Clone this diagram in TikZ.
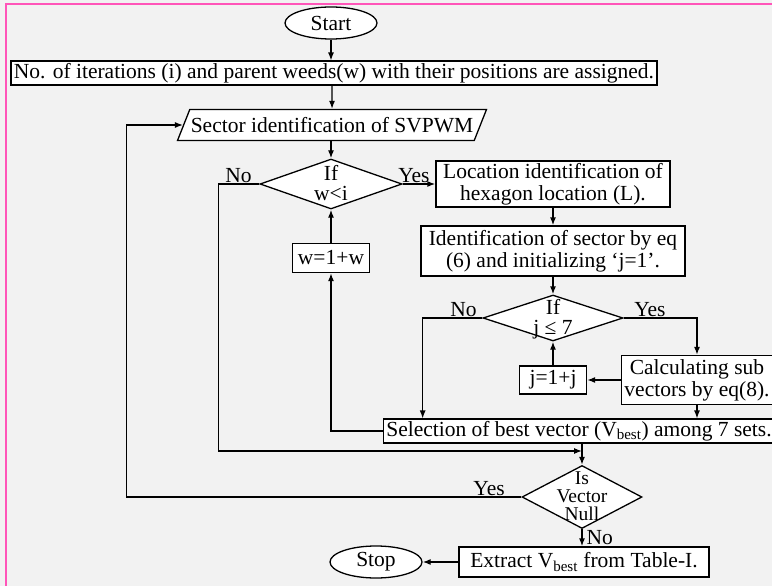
\documentclass[tikz,border=0pt]{standalone}
\usepackage{fontspec}
\setmainfont{Liberation Serif}
\usepackage{xcolor}
\usepackage{tikz}
\usetikzlibrary{shapes.geometric,arrows.meta}
\definecolor{framepink}{RGB}{255,85,185}
\definecolor{pagegray}{RGB}{242,242,242}
\newcommand{\dlines}[2][0.9]{\makebox[0pt]{\smash{\raisebox{-7pt}{\def\arraystretch{#1}\begin{tabular}{@{}c@{}}#2\end{tabular}}}}}

\begin{document}
\begin{tikzpicture}[x=1pt, y=-1pt, line width=1.3pt, >={Latex[length=8pt,width=6pt]}]
    \tikzstyle{terminal} = [ellipse, draw, fill=white, minimum width=92pt, minimum height=32pt, inner sep=0pt, font=\fontsize{21.5}{22}\selectfont]
    \tikzstyle{process} = [rectangle, draw, fill=white, align=center, inner xsep=3pt, inner ysep=2pt, font=\fontsize{21.5}{22}\selectfont]
    \tikzstyle{inout} = [trapezium, trapezium left angle=61, trapezium right angle=119, trapezium stretches=true, draw, fill=white, inner xsep=1pt, minimum height=31pt, font=\fontsize{21.5}{22}\selectfont]
    \tikzstyle{decision} = [diamond, draw, fill=white, inner sep=0pt, font=\fontsize{21.5}{22}\selectfont]
    \tikzstyle{tag} = [inner sep=1pt, font=\fontsize{21.5}{22}\selectfont]

    % page
    \useasboundingbox (0,0) rectangle (772,586);
    \fill[pagegray] (0,0) rectangle (772,586);
    \draw[framepink, line width=2pt] (6,586) -- (6,4) -- (772,4);

    % main column
    \node [terminal] (start) at (331,23) {Start};
    \node [process] (init) at (334,73) {No. of iterations (i) and parent weeds(w) with their positions are assigned.};
    \node [inout] (sector) at (332,125) {Sector identification of SVPWM};
    \node [decision, minimum width=142pt, minimum height=50pt] (wtest) at (331,184) {\dlines{If\\w<i}};
    \node [process, minimum width=77pt, minimum height=29pt] (wnext) at (331,258) {w=1+w};

    % right column
    \node [process, minimum width=234pt, minimum height=44pt] (locate) at (553,184) {Location identification of\\hexagon location (L).};
    \node [process, minimum width=264pt, minimum height=50pt] (sectid) at (553,251) {Identification of sector by eq\\(6) and initializing ‘j=1’.};
    \node [decision, minimum width=140pt, minimum height=46pt] (jtest) at (553,318) {\dlines{If\\j ≤ 7}};
    \node [process, minimum width=67pt, minimum height=28pt] (jnext) at (553,380) {j=1+j};
    \node [process, minimum width=150pt, minimum height=49pt] (subvec) at (697,380) {Calculating sub\\vectors by eq(8).};
    \node [process, minimum width=384pt, minimum height=23pt] (select) at (579,431) {Selection of best vector (V\textsubscript{best}) among 7 sets.};
    \node [decision, minimum width=120pt, minimum height=63pt, font=\fontsize{19.5}{22}\selectfont] (nulltest) at (582,497) {\dlines[0.76]{Is\\Vector\\Null}};
    \node [process, minimum width=250pt, minimum height=30pt] (extract) at (584,562) {Extract V\textsubscript{best} from Table-I.};
    \node [terminal] (stop) at (376,562) {Stop};
    \coordinate (merge) at (582,451);

    % labels
    \node [tag, anchor=south east] (wno) at ([xshift=-6pt]wtest.west) {No};
    \node [tag, anchor=south west] (wyes) at ([xshift=-6pt]wtest.east) {Yes};
    \node [tag, anchor=south east] (jno) at ([xshift=-4pt]jtest.west) {No};
    \node [tag, anchor=south west] (jyes) at ([xshift=9pt]jtest.east) {Yes};
    \node [tag, anchor=south east] (nullyes) at ([xshift=-15pt]nulltest.west) {Yes};
    \node [tag, anchor=north west] (nullno) at ([xshift=3pt]nulltest.south) {No};

    % arrows
    \draw [->] (start) -- (init.north -| start.south);
    \draw [->] (init.south -| sector.north) -- (sector);
    \draw [->] (sector.south -| wtest.north) -- (wtest);
    \draw [->] (wtest) -- (locate);
    \draw [->] (locate) -- (sectid);
    \draw [->] (sectid) -- (jtest);
    \draw [->] (jtest.east) -| (subvec.north);
    \draw [->] (jtest.west) -| ([xshift=40pt]select.north west);
    \draw [->] (subvec) -- (jnext);
    \draw [->] (jnext) -- (jtest);
    \draw [->] (subvec.south) -- (subvec.south |- select.north);
    \draw [->] (select.west) -| (wnext.south);
    \draw [->] (wnext) -- (wtest);
    \draw [->] (wtest.west) -- ++(-41,0) |- (merge);
    \draw [->] (select.south -| nulltest.north) -- (nulltest.north);
    \draw [->] (nulltest.west) -- ++(-395,0) |- (sector.west);
    \draw [->] (nulltest.south) -- (nulltest.south |- extract.north);
    \draw [->] (extract) -- (stop);
\end{tikzpicture}
\end{document}
